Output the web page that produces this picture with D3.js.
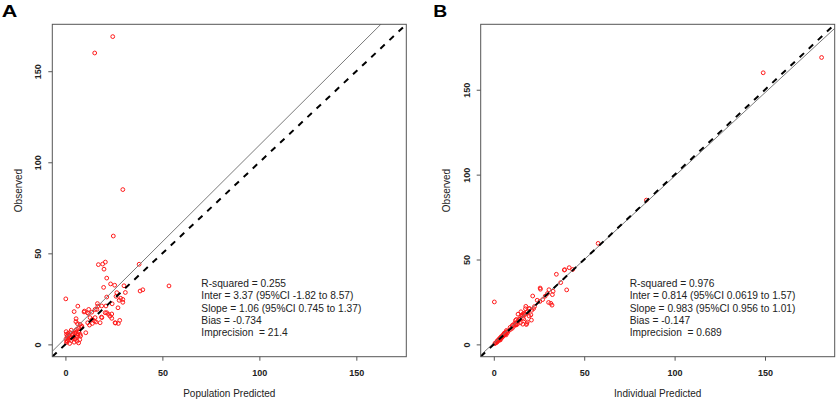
<!DOCTYPE html>
<html>
<head>
<meta charset="utf-8">
<script src="https://cdn.jsdelivr.net/npm/d3@7"></script>
<style>
body { margin: 0; background: #fff; }
text { font-family: "Liberation Sans", Arial, sans-serif; }
</style>
</head>
<body>
<div id="chart"></div>
<script>
// data
var observed = [169, 160, 85, 59.5, 44, 45.2, 44.1, 43.8, 41.3, 36.4,
    33.2, 32.5, 32.1, 32.2, 31.3, 30.0, 29.3, 28.5, 28.4, 26.4,
    26.0, 25.0, 25.3, 24.7, 24.2, 23.1, 22.4, 22.3, 21.1, 21.1,
    21.0, 20.1, 19.2, 19.2, 18.0, 17.8, 17.4, 17.4, 16.7, 15.0,
    14.7, 14.3, 14.1, 13.2, 12.3, 11.7, 11.5, 11.4, 10.6, 6.4,
    5.5,
    1.0, 1.5, 2.0, 2.5, 3.0, 3.5, 4.0, 4.5, 5.0, 5.5,
    6.0, 6.5, 7.0, 2.2, 3.3, 4.2, 5.2, 6.2, 7.5, 8.2,
    1.2, 2.8, 3.9, 4.8, 5.8, 6.8, 1.8, 0.8, 2.6, 4.6,
    5.6, 7.8, 3.7, 0.5, 6.6, 8.8, 9.5,
    18.3, 17.0, 17.7, 19.2, 21.0, 17.4, 16.5, 15.5, 11.9, 11.5,
    14.7, 13.7, 12.8, 11.9, 11.0, 10.0, 12.5, 14.7, 11.9];

var popPredicted = [24.4, 15.1, 29.6, 24.7, 38, 20.6, 19.2, 17, 19.9, 21.3,
    23.3, 25.4, 53.4, 30.2, 19.7, 39.9, 38.5, 30.9, 26.5, 26.1,
    21.3, 0.2, 28.5, 29.6, 27.7, 29.6, 16.5, 24.1, 20.9, 18.7,
    6.4, 27.1, 16.2, 12.0, 4.5, 9.6, 11.3, 21.3, 23.9, 18.6,
    15.3, 23.9, 5.5, 28.0, 15.8, 25.8, 13.9, 6.2, 12.4, 10.5,
    7.6,
    0.5, 1.0, 0.8, 1.5, 0.3, 1.2, 2.0, 0.9, 1.7, 0.6,
    1.3, 2.4, 0.4, 3.1, 3.8, 4.2, 3.5, 4.7, 5.2, 5.8,
    4.5, 5.0, 5.6, 6.2, 6.5, 7.0, 6.0, 6.8, 7.4, 7.8,
    4.0, 3.0, 2.7, 2.2, 5.5, 6.8, 8.0,
    9.8, 11.9, 13.6, 15.3, 16.7, 20.5, 22.2, 23.0, 25.6, 27.3,
    12.7, 13.9, 15.0, 11.5, 7.6, 8.5, 5.4, 18.8, 17.9];

var indPredicted = [181.3, 149, 84.4, 57.7, 39.2, 41.7, 43.6, 39.0, 34.6, 37,
    25.6, 25.8, 40.3, 30.5, 32.8, 29.7, 32.4, 21.5, 28.4, 27,
    24, 0.3, 25.5, 30.3, 31.5, 32.2, 17.7, 22.5, 22, 19.5,
    17.5, 21, 18.5, 15, 16.2, 13.4, 15.8, 20.5, 19.5, 16.5,
    12.5, 20.8, 12, 18.5, 18.2, 18.0, 12.2, 10.5, 11, 6,
    5.2,
    1.2, 1.8, 2.3, 2.6, 3.2, 3.4, 3.9, 4.6, 4.8, 5.6,
    5.4, 6.2, 6.3, 2.0, 3.0, 4.3, 5.5, 6.5, 7.2, 7.0,
    1.5, 3.3, 4.4, 5.2, 6.0, 7.5, 1.9, 0.9, 3.6, 4.1,
    6.8, 8.0, 3.7, 0.6, 5.8, 9.2, 10.2,
    16.8, 15.5, 17.2, 18.6, 19.8, 16.8, 15.0, 15.8, 13.0, 12.4,
    14.4, 13.5, 14.8, 11.8, 10.2, 9.0, 11.6, 13.9, 16.0];

var axisTicks = [0, 50, 100, 150];

var statsA = ["R-squared = 0.255", "Inter = 3.37 (95%CI -1.82 to 8.57)",
    "Slope = 1.06 (95%CI 0.745 to 1.37)", "Bias = -0.734", "Imprecision  = 21.4"];
var statsB = ["R-squared = 0.976", "Inter = 0.814 (95%CI 0.0619 to 1.57)",
    "Slope = 0.983 (95%CI 0.956 to 1.01)", "Bias = -0.147", "Imprecision  = 0.689"];

// regression line [intercept, slope]
var fitA = [3.37, 1.06];
var fitB = [0.814, 0.983];

//standard attributes
var outerWidth = 837;
var outerHeight = 401;
var boxTop = 24.3;
var boxBottom = 356.7;
var boxWidth = 354;

var svg = d3.select("#chart").append("svg")
    .attr("width", outerWidth)
    .attr("height", outerHeight);

function drawPanel(letter, left, letterX, letterW, pred, stats, fit, xTitle) {
    var innerHeight = boxBottom - boxTop;
    var g = svg.append("g").attr("transform", "translate(" + left + "," + boxTop + ")");

    // R style: 4% extension of the common range
    var lim = d3.max(observed.concat(pred));
    var ext = lim * 0.04;
    var x = d3.scaleLinear().domain([-ext, lim + ext]).range([0, boxWidth]);
    var y = d3.scaleLinear().domain([-ext, lim + ext]).range([innerHeight, 0]);

    var clipId = "clip" + letter;
    g.append("clipPath").attr("id", clipId)
        .append("rect").attr("width", boxWidth).attr("height", innerHeight);

    var lines = g.append("g").attr("clip-path", "url(#" + clipId + ")");
    var d0 = x.domain()[0], d1 = x.domain()[1];

    // points
    var pts = pred.map(function (p, i) { return [p, observed[i]]; });
    lines.selectAll("circle").data(pts).enter().append("circle")
        .attr("cx", function (d) { return x(d[0]); })
        .attr("cy", function (d) { return y(d[1]); })
        .attr("r", 1.9)
        .attr("fill", "none")
        .attr("stroke", "#ff1a1a")
        .attr("stroke-width", 1);

    // fitted line
    lines.append("line")
        .attr("x1", x(d0)).attr("y1", y(fit[0] + fit[1] * d0))
        .attr("x2", x(d1)).attr("y2", y(fit[0] + fit[1] * d1))
        .attr("stroke", "#7a7a7a").attr("stroke-width", 1);

    // identity line
    lines.append("line")
        .attr("x1", x(d0)).attr("y1", y(d0))
        .attr("x2", x(d1)).attr("y2", y(d1))
        .attr("stroke", "#000").attr("stroke-width", 2)
        .attr("stroke-dasharray", "6,6.5");

    g.append("rect")
        .attr("width", boxWidth).attr("height", innerHeight)
        .attr("fill", "none").attr("stroke", "#555").attr("stroke-width", 1);

    var xAxis = g.append("g").attr("transform", "translate(0," + innerHeight + ")")
        .call(d3.axisBottom(x).tickValues(axisTicks).tickSize(4));
    xAxis.select(".domain").remove();
    xAxis.selectAll("line").attr("stroke", "#555");
    xAxis.selectAll("text")
        .attr("y", 19.3).attr("dy", 0)
        .attr("fill", "#222")
        .style("font-size", "9px").style("font-weight", "bold")
        .style("font-family", "'Liberation Sans', Arial, sans-serif");

    var yAxis = g.append("g")
        .call(d3.axisLeft(y).tickValues(axisTicks).tickSize(4));
    yAxis.select(".domain").remove();
    yAxis.selectAll("line").attr("stroke", "#555");
    yAxis.selectAll("text")
        .attr("x", 0).attr("dy", 0)
        .attr("text-anchor", "middle")
        .attr("transform", "translate(-11,0) rotate(-90)")
        .attr("fill", "#222")
        .style("font-size", "9px").style("font-weight", "bold")
        .style("font-family", "'Liberation Sans', Arial, sans-serif");

    // axis titles
    g.append("text")
        .attr("x", boxWidth / 2).attr("y", innerHeight + 40)
        .attr("text-anchor", "middle")
        .attr("font-size", "10px").attr("fill", "#222")
        .text(xTitle);
    g.append("text")
        .attr("transform", "translate(-30.8," + innerHeight / 2 + ") rotate(-90)")
        .attr("text-anchor", "middle")
        .attr("font-size", "10px").attr("fill", "#222")
        .text("Observed");

    // stats text
    g.selectAll(".stat").data(stats).enter().append("text")
        .attr("class", "stat")
        .attr("x", boxWidth * 0.421)
        .attr("y", function (d, i) { return 263 + i * 12.2; })
        .attr("font-size", "10.2px").attr("fill", "#222")
        .style("white-space", "pre")
        .text(function (d) { return d; });

    // panel letter
    svg.append("text")
        .attr("x", letterX).attr("y", 17.3)
        .attr("font-size", "17px").attr("font-weight", "bold")
        .attr("textLength", letterW).attr("lengthAdjust", "spacingAndGlyphs")
        .text(letter);
}

drawPanel("A", 52.3, 1.7, 15.6, popPredicted, statsA, fitA, "Population Predicted");
drawPanel("B", 480.7, 433.3, 14, indPredicted, statsB, fitB, "Individual Predicted");
</script>
</body>
</html>
